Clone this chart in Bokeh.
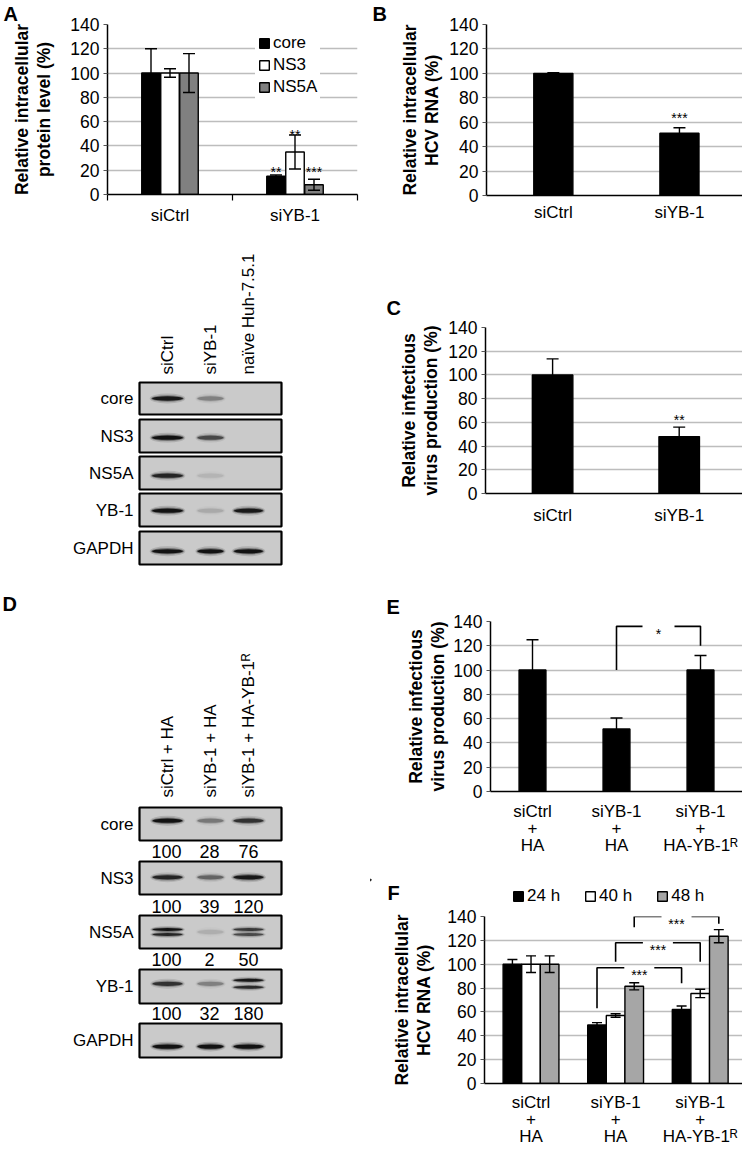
import math
from bokeh.plotting import figure
from bokeh.layouts import row, column
from bokeh.models import (Range1d, FixedTicker, Whisker, TeeHead, Label, Legend,
                          LegendItem, ColumnDataSource, Title)
from bokeh.core.properties import value
from bokeh.embed import file_html
from bokeh.resources import INLINE

# ------------------------------------------------------------------ data
Y_TICKS = [0, 20, 40, 60, 80, 100, 120, 140]

# Panel A: relative intracellular protein level (%)
A_CATS = ["siCtrl", "siYB-1"]
A_SERIES = ["core", "NS3", "NS5A"]
A_CORE = [100, 15]
A_CORE_ERR = [20, 1]
A_NS3 = [100, 35]
A_NS3_ERR = [3.5, 14]
A_NS5A = [100, 8]
A_NS5A_ERR = [16, 4.5]
A_SIG = ["**", "**", "***"]          # siYB-1 group, per series
A_SIG_Y = [25, 55, 25]

# Panel B: relative intracellular HCV RNA (%)
B_CATS = ["siCtrl", "siYB-1"]
B_VALS = [100, 51]
B_ERR = [0.6, 4.5]
B_SIG = ["", "***"]
B_SIG_Y = [0, 70]

# Panel C: relative infectious virus production (%)
C_CATS = ["siCtrl", "siYB-1"]
C_VALS = [100, 48]
C_ERR = [13.5, 8]
C_SIG = ["", "**"]
C_SIG_Y = [0, 68]

# Panel E: relative infectious virus production (%)
E_CATS = ["siCtrl\n+\nHA", "siYB-1\n+\nHA", "siYB-1\n+\nHA-YB-1\u1d3f"]
E_VALS = [100, 51.5, 100]
E_ERR = [25, 9, 12]
# (from category, to category, left y, top y, right y, label)
E_BRACKETS = [(1, 2, 100, 136, 120, "*")]

# Panel F: relative intracellular HCV RNA (%)
F_CATS = E_CATS
F_SERIES = ["24 h", "40 h", "48 h"]
F_24 = [100, 49, 62]
F_24_ERR = [4, 2, 3]
F_40 = [100, 57, 75.5]
F_40_ERR = [7, 1.5, 3.5]
F_48 = [100, 81.5, 123.5]
F_48_ERR = [7, 3, 5.5]
# (from cat, from series, to cat, to series, left y, top y, right y, label)
F_BRACKETS = [(1, 0, 2, 0, 63, 97, 84, "***"),
              (1, 1, 2, 1, 102, 118, 102, "***"),
              (1, 2, 2, 2, 131, 140, 134, "***")]

# Western blots
BLOT_A_LANES = ["siCtrl", "siYB-1", "na\u00efve Huh-7.5.1"]
BLOT_A_PROTEINS = ["core", "NS3", "NS5A", "YB-1", "GAPDH"]
BLOT_A_SIGNAL = [[0.95, 0.30, 0.0],
                 [1.00, 0.60, 0.0],
                 [0.85, 0.08, 0.0],
                 [1.00, 0.12, 0.95],
                 [1.00, 1.00, 1.00]]

BLOT_D_LANES = ["siCtrl + HA", "siYB-1 + HA", "siYB-1 + HA-YB-1\u1d3f"]
BLOT_D_PROTEINS = ["core", "NS3", "NS5A", "YB-1", "GAPDH"]
BLOT_D_QUANT = [[100, 28, 76], [100, 39, 120], [100, 2, 50], [100, 32, 180]]
BLOT_D_SIGNAL = [[1.00, 0.35, 0.75],
                 [0.85, 0.45, 0.95],
                 [1.00, 0.10, 0.70],
                 [0.75, 0.30, 0.95],
                 [1.00, 1.00, 1.00]]

# ------------------------------------------------------------------ style
FONT = "Liberation Sans"
BLACK = "#000000"
WHITE = "#ffffff"
GRAY_A = "#808080"
GRAY_F = "#a6a6a6"
GRID = "#bdbdbd"
BLOT_BG = "#cacaca"
LETTER_SIZE = "20px"


class Frame:
    def __init__(self, frame, xr, yr):
        self.fx0, self.fy0, self.fx1, self.fy1 = frame
        self.xr, self.yr = xr, yr

    def dx(self, px):
        return px / (self.fx1 - self.fx0) * (self.xr[1] - self.xr[0])

    def dy(self, px):
        return px / (self.fy1 - self.fy0) * (self.yr[1] - self.yr[0])


def make_chart(region, frame, xr, cats, ylabel, ylab_standoff, xlab_standoff, sep_ticks=False):
    rx0, ry0, rx1, ry1 = region
    fx0, fy0, fx1, fy1 = frame
    p = figure(width=rx1 - rx0, height=ry1 - ry0,
               min_border_left=fx0 - rx0, min_border_right=rx1 - fx1,
               min_border_top=fy0 - ry0, min_border_bottom=ry1 - fy1,
               x_range=Range1d(*xr), y_range=Range1d(0, 140),
               output_backend="svg", toolbar_location=None)
    p.frame_align = False
    p.outline_line_color = None
    p.background_fill_color = WHITE
    p.border_fill_color = WHITE
    yt = FixedTicker(ticks=Y_TICKS)
    p.xgrid.visible = False
    p.ygrid.ticker = yt
    p.ygrid.grid_line_color = GRID
    p.ygrid.grid_line_width = 1.3
    ya = p.yaxis[0]
    ya.ticker = yt
    ya.axis_line_color = BLACK
    ya.axis_line_width = 1.5
    ya.major_tick_out = 4
    ya.major_tick_in = 0
    ya.minor_tick_out = 0
    ya.minor_tick_in = 0
    ya.major_tick_line_color = "#555555"
    ya.major_label_text_font = FONT
    ya.major_label_text_font_size = "17.5px"
    ya.major_label_text_color = BLACK
    ya.major_label_standoff = 4
    ya.axis_label = ylabel
    ya.axis_label_text_font = FONT
    ya.axis_label_text_font_size = "17.5px"
    ya.axis_label_text_font_style = "bold"
    ya.axis_label_text_color = BLACK
    ya.axis_label_standoff = ylab_standoff
    ya.axis_label_text_line_height = 1.1
    xa = p.xaxis[0]
    n = len(cats)
    xa.ticker = FixedTicker(ticks=list(range(n)),
                            minor_ticks=[i - 0.5 for i in range(n + 1)])
    xa.major_label_overrides = {i: c for i, c in enumerate(cats)}
    xa.axis_line_color = BLACK
    xa.axis_line_width = 1.5
    xa.major_tick_out = 0
    xa.major_tick_in = 0
    xa.minor_tick_in = 0
    xa.minor_tick_out = 6 if sep_ticks else 0
    xa.minor_tick_line_color = BLACK
    xa.minor_tick_line_width = 1.2
    xa.major_label_text_font = FONT
    xa.major_label_text_font_size = "17px"
    xa.major_label_text_color = BLACK
    xa.major_label_standoff = xlab_standoff
    xa.major_label_text_line_height = 0.92
    return p, Frame(frame, xr, (0, 140))


def add_bars(p, xs, vals, errs, width, color, head):
    src = ColumnDataSource(dict(x=xs, top=vals,
                                lo=[v - e for v, e in zip(vals, errs)],
                                hi=[v + e for v, e in zip(vals, errs)]))
    r = p.vbar(x="x", top="top", bottom=0, width=width, source=src,
               fill_color=color, line_color=BLACK, line_width=1.4)
    w = Whisker(source=src, base="x", upper="hi", lower="lo", dimension="height",
                line_color=BLACK, line_width=1.4, level="overlay",
                upper_head=TeeHead(size=head, line_color=BLACK, line_width=1.4),
                lower_head=TeeHead(size=head, line_color=BLACK, line_width=1.4))
    p.add_layout(w)
    return r


def add_star(p, f, x, y_center, text):
    if not text:
        return
    p.add_layout(Label(x=x, y=y_center - f.dy(7.5), text=text, text_font=FONT,
                       text_font_size="14px", text_align="center",
                       text_baseline="alphabetic", text_color=BLACK))


def add_letter(p, f, rx, text, standoff):
    # panel letter placed in the border above the frame
    t = Title(text=text, align="left", offset=rx - f.fx0, standoff=standoff,
              text_font=FONT, text_font_size=LETTER_SIZE, text_font_style="bold",
              text_color=BLACK, vertical_align="bottom")
    p.add_layout(t, "above")


def add_bracket(p, f, xl, xr, yl, yt, yr, text, gap_px=16):
    xm = (xl + xr) / 2.0
    g = f.dx(gap_px)
    p.multi_line(xs=[[xl, xl, xm - g], [xm + g, xr, xr]],
                 ys=[[yl, yt, yt], [yt, yt, yr]],
                 line_color=BLACK, line_width=1.6)
    add_star(p, f, xm, yt, text)


def make_canvas(region):
    # plain drawing area whose data units are pixels of the figure
    rx0, ry0, rx1, ry1 = region
    p = figure(width=rx1 - rx0, height=ry1 - ry0,
               x_range=Range1d(rx0, rx1), y_range=Range1d(ry1, ry0),
               min_border=0, min_border_left=0, min_border_right=0,
               min_border_top=0, min_border_bottom=0,
               output_backend="svg", toolbar_location=None)
    p.frame_align = False
    p.axis.visible = False
    p.grid.visible = False
    p.outline_line_color = None
    p.background_fill_color = WHITE
    p.border_fill_color = WHITE
    return p


# ------------------------------------------------------------------ panel A
pA, fA = make_chart((0, 0, 370, 232), (107, 24, 357, 194), (-0.5, 1.5), A_CATS,
                    "Relative intracellular\nprotein level (%)", 13, 5, sep_ticks=True)
OFF_A = [-0.152, 0.0, 0.152]
A_VALS = [A_CORE, A_NS3, A_NS5A]
A_ERRS = [A_CORE_ERR, A_NS3_ERR, A_NS5A_ERR]
A_COLORS = [BLACK, WHITE, GRAY_A]
itemsA = []
for s in range(3):
    xs = [i + OFF_A[s] for i in range(len(A_CATS))]
    r = add_bars(pA, xs, A_VALS[s], A_ERRS[s], 0.148, A_COLORS[s], 12)
    itemsA.append(LegendItem(label=A_SERIES[s], renderers=[r]))
    add_star(pA, fA, 1 + OFF_A[s], A_SIG_Y[s], A_SIG[s])
legA = Legend(items=itemsA, location=(148, 94), orientation="vertical",
              glyph_width=12, glyph_height=12, label_height=20, label_standoff=3,
              spacing=2, padding=3, margin=0,
              label_text_font=FONT, label_text_font_size="17px", label_text_color=BLACK,
              background_fill_color=WHITE, background_fill_alpha=1.0, border_line_alpha=0)
pA.add_layout(legA)
add_letter(pA, fA, 3, "A", 0)

# ------------------------------------------------------------------ panel B
pB, fB = make_chart((370, 0, 742, 232), (486, 24, 742, 195), (-0.53, 1.5), B_CATS,
                    "Relative intracellular\nHCV RNA (%)", 4, 7)
add_bars(pB, list(range(len(B_CATS))), B_VALS, B_ERR, 0.31, BLACK, 12)
for i, t in enumerate(B_SIG):
    add_star(pB, fB, i, B_SIG_Y[i], t)
add_letter(pB, fB, 372, "B", 0)

# ------------------------------------------------------------------ panel C
pC, fC = make_chart((370, 232, 742, 540), (485, 327, 742, 493), (-0.53, 1.5), C_CATS,
                    "Relative infectious\nvirus production (%)", 4, 12)
add_bars(pC, list(range(len(C_CATS))), C_VALS, C_ERR, 0.32, BLACK, 12)
for i, t in enumerate(C_SIG):
    add_star(pC, fC, i, C_SIG_Y[i], t)
add_letter(pC, fC, 386, "C", 18)

# ------------------------------------------------------------------ panel E
pE, fE = make_chart((370, 540, 742, 865), (490, 621, 742, 791), (-0.5, 2.5), E_CATS,
                    "Relative infectious\nvirus production (%)", 2, 10)
add_bars(pE, list(range(len(E_CATS))), E_VALS, E_ERR, 0.32, BLACK, 12)
for (c0, c1, yl, yt, yr, t) in E_BRACKETS:
    add_bracket(pE, fE, c0, c1, yl, yt, yr, t)
add_letter(pE, fE, 386, "E", 8)

# ------------------------------------------------------------------ panel F
# header strip holding the panel letter and the series legend
pFh = make_canvas((370, 865, 742, 906))
pFh.text(x=[387], y=[892], text=["F"], text_font=value(FONT), text_font_size=LETTER_SIZE,
         text_font_style="bold", text_align="left", text_baseline="middle",
         text_color=BLACK)
F_COLORS = [BLACK, WHITE, GRAY_F]
# legend key glyphs: one far off-canvas bar each, only used to draw the legend swatches
keys = [pFh.vbar(x=[-5000], top=[880], bottom=[879], width=1, fill_color=c,
                 line_color=BLACK, line_width=1.4)
        for c in F_COLORS]
legF = Legend(items=[LegendItem(label=F_SERIES[s], renderers=[keys[s]]) for s in range(3)],
              location=(142, 0), orientation="horizontal",
              glyph_width=12, glyph_height=12, label_height=20, label_standoff=3,
              spacing=24, padding=0, margin=0,
              label_text_font=FONT, label_text_font_size="17px", label_text_color=BLACK,
              background_fill_alpha=0, border_line_alpha=0)
pFh.add_layout(legF)

pF, fF = make_chart((370, 906, 742, 1149), (484, 916, 742, 1084), (-0.55, 2.5), F_CATS,
                    "Relative intracellular\nHCV RNA (%)", 10, 9)
OFF_F = [-0.22, 0.0, 0.22]
F_VALS = [F_24, F_40, F_48]
F_ERRS = [F_24_ERR, F_40_ERR, F_48_ERR]
for s in range(3):
    xs = [i + OFF_F[s] for i in range(len(F_CATS))]
    add_bars(pF, xs, F_VALS[s], F_ERRS[s], 0.22, F_COLORS[s], 10)
for (c0, s0, c1, s1, yl, yt, yr, t) in F_BRACKETS:
    add_bracket(pF, fF, c0 + OFF_F[s0], c1 + OFF_F[s1], yl, yt, yr, t, gap_px=15)


# ------------------------------------------------------------------ blots
def draw_band(p, x, y, w, h, inten):
    if inten <= 0:
        return
    layers = [(1.08, 2.2, 0.14), (1.0, 1.45, 0.35), (0.93, 0.95, 0.9)]
    for fw, fh, a in layers:
        p.ellipse(x=[x], y=[y], width=[w * fw], height=[h * fh],
                  fill_color="#080808", fill_alpha=min(1.0, a * inten), line_color=None)


BOX_X0, BOX_X1 = 139, 281
LABEL_X = 133


def draw_blot(p, lanes, lane_x, label_bottom, proteins, boxes, signal, band_rel,
              doublets, band_w):
    # lane labels (rotated)
    p.text(x=lane_x, y=[label_bottom] * len(lanes), text=lanes, angle=math.pi / 2,
           text_font=value(FONT), text_font_size="17px", text_align="left",
           text_baseline="middle", text_color=BLACK)
    for k, prot in enumerate(proteins):
        y0, y1 = boxes[k]
        p.quad(left=[BOX_X0], right=[BOX_X1], top=[y0], bottom=[y1],
               fill_color=BLOT_BG, line_color=BLACK, line_width=2.2)
        p.text(x=[LABEL_X], y=[(y0 + y1) / 2.0], text=[prot], text_font=value(FONT),
               text_font_size="17px", text_align="right", text_baseline="middle",
               text_color=BLACK)
        yc = y0 + band_rel[k] * (y1 - y0)
        for j, lx in enumerate(lane_x):
            inten = signal[k][j]
            dgap = doublets[k][j]
            if dgap:
                draw_band(p, lx, yc - dgap / 2.0, band_w[j], 3.2, inten)
                draw_band(p, lx, yc + dgap / 2.0, band_w[j], 3.2, inten * 0.85)
            else:
                draw_band(p, lx, yc, band_w[j], 4.5, inten)


# blot for panel A
pBA = make_canvas((0, 232, 370, 570))
draw_blot(pBA, BLOT_A_LANES, [167, 210, 248], 374, BLOT_A_PROTEINS,
          [(382, 414), (419, 452), (456, 489), (493, 526), (531, 564)],
          BLOT_A_SIGNAL, [0.5, 0.55, 0.58, 0.52, 0.6],
          [[0, 0, 0], [0, 0, 0], [0, 0, 0], [0, 0, 0], [0, 0, 0]],
          [33, 28, 31])

# blot for panel D
pBD = make_canvas((0, 570, 370, 1149))
D_BOXES = [(807, 840), (861, 894), (915, 948), (969, 1003), (1023, 1057)]
draw_blot(pBD, BLOT_D_LANES, [167, 210, 248], 797, BLOT_D_PROTEINS, D_BOXES,
          BLOT_D_SIGNAL, [0.4, 0.48, 0.5, 0.42, 0.68],
          [[0, 0, 0], [0, 0, 0], [5, 0, 5], [0, 0, 7], [0, 0, 0]],
          [32, 28, 32])
NUM_Y = [851, 906, 959, 1013]
for k, row_vals in enumerate(BLOT_D_QUANT):
    pBD.text(x=[166, 209, 248], y=[NUM_Y[k]] * 3, text=[str(v) for v in row_vals],
             text_font=value(FONT), text_font_size="18px", text_align="center",
             text_baseline="middle", text_color=BLACK)
pBD.text(x=[2], y=[603], text=["D"], text_font=value(FONT), text_font_size=LETTER_SIZE,
         text_font_style="bold", text_align="left", text_baseline="middle",
         text_color=BLACK)

layout = row(column(pA, pBA, pBD, spacing=0),
             column(pB, pC, pE, pFh, pF, spacing=0), spacing=0)
open("out.html", "w").write(file_html(layout, INLINE))
